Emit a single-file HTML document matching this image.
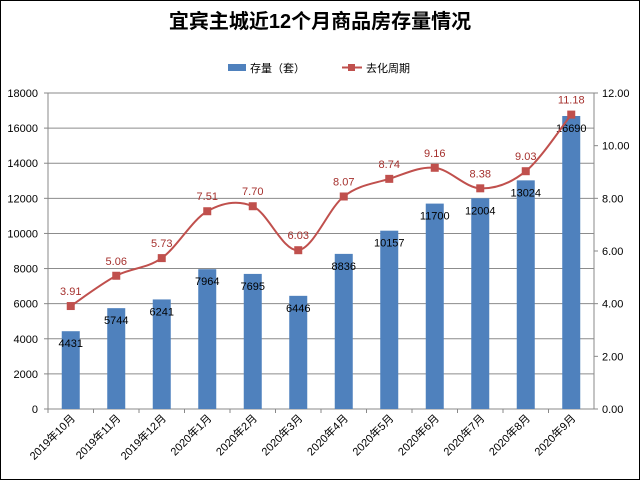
<!DOCTYPE html>
<html><head><meta charset="utf-8"><style>
body{margin:0;background:#fff}
svg{display:block;font-family:"Liberation Sans","Noto Sans CJK SC",sans-serif}
</style></head><body>
<svg width="640" height="480">
<rect x="0.5" y="0.5" width="639" height="479" fill="#fff" stroke="#000"/>
<text x="320" y="28" text-anchor="middle" font-size="20" font-weight="bold">宜宾主城近12个月商品房存量情况</text>
<g>
<rect x="228" y="64" width="18" height="7" fill="#4f81bd"/>
<text x="250" y="72" font-size="11">存量（套）</text>
<line x1="342" y1="67.5" x2="362" y2="67.5" stroke="#c0504d" stroke-width="2"/>
<rect x="348" y="64" width="7" height="7" fill="#c0504d"/>
<text x="366" y="72" font-size="11">去化周期</text>
</g>
<g id="plot"></g>
</svg>
<script>
const categories=["2019年10月","2019年11月","2019年12月","2020年1月","2020年2月","2020年3月","2020年4月","2020年5月","2020年6月","2020年7月","2020年8月","2020年9月"];
const stock=[4431,5744,6241,7964,7695,6446,8836,10157,11700,12004,13024,16690];
const cycle=[3.91,5.06,5.73,7.51,7.70,6.03,8.07,8.74,9.16,8.38,9.03,11.18];
const leftTicks=[0,2000,4000,6000,8000,10000,12000,14000,16000,18000];
const rightTicks=["0.00","2.00","4.00","6.00","8.00","10.00","12.00"];
const L=48,R=594,T=93,B=409;
const ns="http://www.w3.org/2000/svg";
const g=document.getElementById('plot');
function mk(t,a,txt){const e=document.createElementNS(ns,t);for(const k in a)e.setAttribute(k,a[k]);if(txt!=null)e.textContent=txt;g.appendChild(e);return e;}
const step=(R-L)/categories.length;
const xc=i=>L+step*(i+0.5);
const yL=v=>B-(v/18000)*(B-T);
const yR=v=>B-(v/12)*(B-T);
leftTicks.forEach(v=>{
const gl=mk('line',{x1:L,x2:R,y1:yL(v),y2:yL(v),stroke:'#8c8c8c','stroke-width':1});


const t=mk('text',{x:L-10,y:yL(v)+4,'text-anchor':'end','font-size':11},String(v));


mk('line',{x1:L-4,x2:L,y1:yL(v),y2:yL(v),stroke:'#888'});});
let e=mk('rect',{x:L,y:T,width:R-L,height:B-T,fill:'none',stroke:'#888'});


rightTicks.forEach(s=>{const v=parseFloat(s);const t=mk('text',{x:R+8,y:yR(v)+4,'font-size':11},s);


mk('line',{x1:R,x2:R+4,y1:yR(v),y2:yR(v),stroke:'#888'});});
categories.forEach((c,i)=>{
const b=mk('rect',{x:xc(i)-9,y:yL(stock[i]),width:18,height:B-yL(stock[i]),fill:'#4f81bd'});


mk('line',{x1:L+step*i,x2:L+step*i,y1:B,y2:B+4,stroke:'#888'});
const lbl=mk('text',{x:0,y:0,'text-anchor':'end','font-size':11,transform:`translate(${xc(i)+5},${B+10}) rotate(-45)`},c);


const vl=mk('text',{x:xc(i),y:yL(stock[i])+16,'text-anchor':'middle','font-size':11},String(stock[i]));


});
let d='';
for(let i=0;i<cycle.length;i++){const x=xc(i),y=yR(cycle[i]);
if(i===0)d='M'+x+','+y;else{const x0=xc(i-1),y0=yR(cycle[i-1]);
const px=i>1?xc(i-2):x0,py=i>1?yR(cycle[i-2]):y0;const nx=i<cycle.length-1?xc(i+1):x,ny=i<cycle.length-1?yR(cycle[i+1]):y;
const c1x=x0+(x-px)/6,c1y=y0+(y-py)/6,c2x=x-(nx-x0)/6,c2y=y-(ny-y0)/6;
d+=` C${c1x},${c1y} ${c2x},${c2y} ${x},${y}`;}}
const ln=mk('path',{d:d,fill:'none',stroke:'#c0504d','stroke-width':2});


cycle.forEach((v,i)=>{
const m=mk('rect',{x:xc(i)-4,y:yR(v)-4,width:8,height:8,fill:'#c0504d'});


const t=mk('text',{x:xc(i),y:yR(v)-11,'text-anchor':'middle','font-size':11,fill:'#a5302d'},v.toFixed(2));


});
</script>
</body></html>
